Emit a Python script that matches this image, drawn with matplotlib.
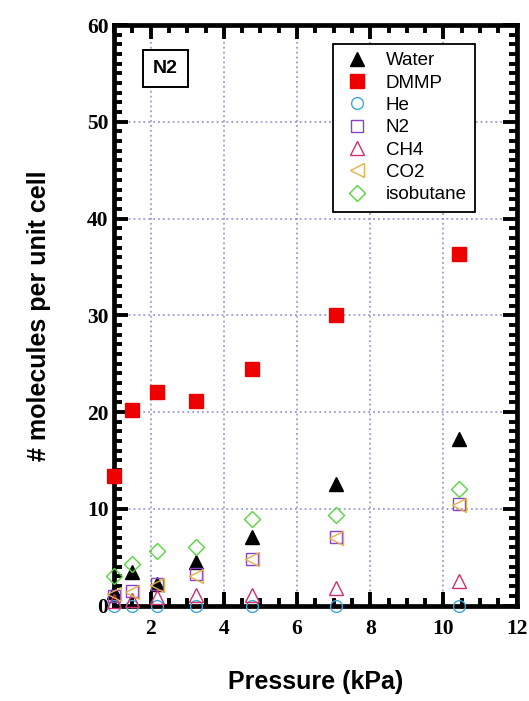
import matplotlib
matplotlib.use("Agg")
import matplotlib.pyplot as plt
from matplotlib.ticker import MultipleLocator

# Loading of each species per unit cell vs. pressure
pressure = [1.0, 1.5, 2.17, 3.24, 4.77, 7.06, 10.42]
water = [1.4, 3.5, 2.2, 4.5, 7.1, 12.6, 17.2]
dmmp = [13.4, 20.2, 22.1, 21.1, 24.4, 30.0, 36.3]
helium = [0.0, 0.0, 0.0, 0.0, 0.0, 0.0, 0.0]
nitrogen = [1.0, 1.5, 2.2, 3.3, 4.8, 7.1, 10.5]
methane = [0.5, 0.6, 0.9, 1.1, 1.1, 1.8, 2.5]
co2 = [1.2, 1.4, 2.1, 3.1, 4.8, 7.0, 10.4]
isobutane = [3.0, 4.3, 5.6, 6.1, 8.9, 9.4, 12.0]

fig = plt.figure(figsize=(5.29, 7.01), dpi=100)
ax = fig.add_axes([0.2155, 0.1362, 0.7612, 0.8281])

ax.grid(True, which="major", color="#8a8ad0", linestyle=(0, (1.2, 2.0)), linewidth=1.1)
ax.set_axisbelow(True)

common = dict(linestyle="none", zorder=5, clip_on=False)
ax.plot(pressure, water, marker="^", markersize=9.5, color="black",
        label="Water", **common)
ax.plot(pressure, dmmp, marker="s", markersize=9.5, color="#ee0000",
        label="DMMP", **common)
ax.plot(pressure, helium, marker="o", markersize=8.5, markerfacecolor="none",
        markeredgecolor="#3ea6d4", markeredgewidth=1.0, label="He", **common)
ax.plot(pressure, nitrogen, marker="s", markersize=8.5, markerfacecolor="none",
        markeredgecolor="#8844c4", markeredgewidth=1.0, label="N2", **common)
ax.plot(pressure, methane, marker="^", markersize=9.5, markerfacecolor="none",
        markeredgecolor="#d0306e", markeredgewidth=1.0, label="CH4", **common)
ax.plot(pressure, co2, marker="<", markersize=9.5, markerfacecolor="none",
        markeredgecolor="#e8b04c", markeredgewidth=1.0, label="CO2", **common)
ax.plot(pressure, isobutane, marker="D", markersize=8.5, markerfacecolor="none",
        markeredgecolor="#55d63c", markeredgewidth=1.0, label="isobutane", **common)

ax.set_xlim(1, 12)
ax.set_ylim(0, 60)
ax.xaxis.set_major_locator(MultipleLocator(2))
ax.xaxis.set_minor_locator(MultipleLocator(0.5))
ax.yaxis.set_major_locator(MultipleLocator(10))
ax.yaxis.set_minor_locator(MultipleLocator(1))

for spine in ax.spines.values():
    spine.set_linewidth(3.4)
    spine.set_zorder(4)

ax.tick_params(which="both", direction="in", top=True, right=True, width=2.8)
ax.tick_params(which="major", length=10)
ax.tick_params(which="minor", length=5.5)
ax.tick_params(axis="x", which="major", pad=10)
ax.tick_params(axis="y", which="major", pad=4)

ax.set_xticks([2, 4, 6, 8, 10, 12])
ax.set_xticklabels(["2", "4", "6", "8", "10", "12"])
for lbl in ax.get_xticklabels() + ax.get_yticklabels():
    lbl.set_fontfamily("Liberation Serif")
    lbl.set_fontweight("bold")
    lbl.set_fontsize(15.5)

ax.set_xlabel("Pressure (kPa)", fontfamily="Liberation Sans", fontweight="bold",
              fontsize=18, labelpad=22)
ax.set_ylabel("# molecules per unit cell", fontfamily="Liberation Sans",
              fontweight="bold", fontsize=18, labelpad=26)

leg = ax.legend(loc="upper right", bbox_to_anchor=(0.897, 0.968),
                prop={"family": "Liberation Sans", "size": 13.5},
                frameon=True, fancybox=False, edgecolor="black",
                framealpha=1.0, borderpad=0.45, labelspacing=0.28,
                handletextpad=0.75, handlelength=1.6, borderaxespad=0)
leg.get_frame().set_linewidth(1.3)

ax.text(0.128, 0.925, "N2", transform=ax.transAxes, ha="center", va="center",
        fontfamily="Liberation Sans", fontweight="bold", fontsize=14,
        bbox=dict(boxstyle="square,pad=0.5", facecolor="white",
                  edgecolor="black", linewidth=1.4))

fig.savefig("out.png", dpi=100)
